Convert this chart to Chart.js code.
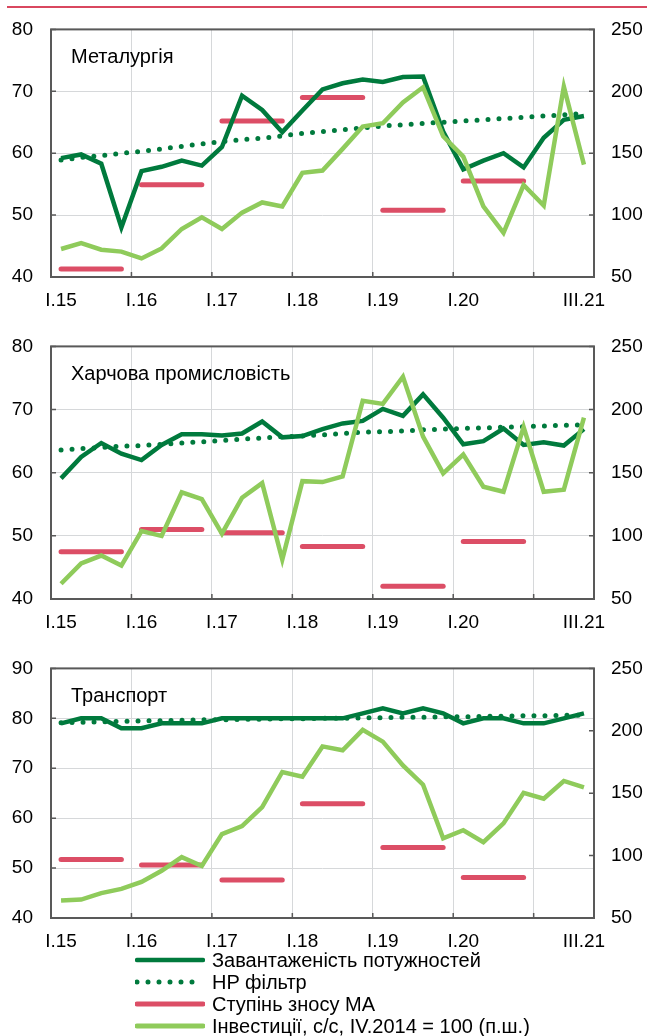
<!DOCTYPE html>
<html>
<head>
<meta charset="utf-8">
<script src="https://cdn.jsdelivr.net/npm/chart.js@4"></script>
<style>
  body { margin: 0; background: #fff; width: 647px; height: 1036px; position: relative; overflow: hidden;
         font-family: "Liberation Sans", Arial, sans-serif; }
  canvas { position: absolute; left: 0; }
  #topline { position: absolute; left: 7px; right: 0; top: 6px; height: 2px; background: #d9475f; }
  #legend { position: absolute; left: 135px; top: 949px; }
  .row { height: 22px; line-height: 22px; display: flex; align-items: center; font-size: 20px; color: #000; }
  .row svg { margin-right: 7px; flex: none; }
</style>
</head>
<body>
<div id="topline"></div>
<canvas id="c1" width="647" height="317" style="top:0px"></canvas>
<canvas id="c2" width="647" height="322" style="top:317px"></canvas>
<canvas id="c3" width="647" height="319" style="top:639px"></canvas>

<div id="legend">
  <div class="row"><svg width="70" height="10"><line x1="2" y1="5" x2="68" y2="5" stroke="#007a3d" stroke-width="4.5" stroke-linecap="round"/></svg>Завантаженість потужностей</div>
  <div class="row"><svg width="70" height="10"><line x1="2" y1="5" x2="68" y2="5" stroke="#007a3d" stroke-width="5" stroke-linecap="round" stroke-dasharray="0 11"/></svg>HP фільтр</div>
  <div class="row"><svg width="70" height="10"><line x1="2" y1="5" x2="68" y2="5" stroke="#dc4e66" stroke-width="5" stroke-linecap="round"/></svg>Ступінь зносу МА</div>
  <div class="row"><svg width="70" height="10"><line x1="2" y1="5" x2="68" y2="5" stroke="#8fcb5b" stroke-width="5" stroke-linecap="round"/></svg>Інвестиції, с/с, IV.2014 = 100 (п.ш.)</div>
</div>

<script>
// quarters I.15 .. III.21
const quarters = ['I.15','II.15','III.15','IV.15','I.16','II.16','III.16','IV.16',
  'I.17','II.17','III.17','IV.17','I.18','II.18','III.18','IV.18',
  'I.19','II.19','III.19','IV.19','I.20','II.20','III.20','IV.20',
  'I.21','II.21','III.21'];
const shownTicks = ['I.15','I.16','I.17','I.18','I.19','I.20','III.21'];

// Металургія
const metCapacity = [59.2, 59.8, 58.3, 48.0, 57.1, 57.8, 58.8, 58.0, 61.0, 69.3, 67.0, 63.4, 66.9, 70.3,
  71.3, 71.9, 71.5, 72.3, 72.4, 63.5, 57.4, 58.8, 60.0, 57.7, 62.5, 65.4, 66.0];
const metHP = [58.9, 59.3, 59.6, 60.0, 60.3, 60.7, 61.1, 61.5, 61.9, 62.2, 62.4, 62.8, 63.2, 63.5,
  63.8, 64.1, 64.4, 64.6, 64.8, 65.0, 65.2, 65.4, 65.6, 65.8, 66.0, 66.2, 66.4];
const metWear = [41.3, 54.9, 65.2, 69.0, 50.8, 55.5]; // 2015..2020
const metInvest = [72.6, 77.3, 72.0, 70.5, 65.0, 73.1, 88.8, 98.2, 88.8, 102.0, 110.2, 107.0, 134.2, 136.0,
  153.5, 171.5, 174.2, 191.0, 203.3, 163.7, 147.3, 107.0, 85.7, 124.3, 107.7, 203.8, 140.8];

// Харчова промисловість
const foodCapacity = [59.1, 62.5, 64.7, 63.0, 62.0, 64.4, 66.1, 66.1, 65.9, 66.2, 68.1, 65.6, 65.8, 66.9,
  67.8, 68.2, 70.1, 69.0, 72.4, 68.7, 64.5, 65.0, 67.0, 64.4, 64.8, 64.3, 66.9];
const foodHP = [63.6, 63.8, 64.0, 64.2, 64.3, 64.5, 64.7, 64.9, 65.1, 65.3, 65.5, 65.7, 65.8, 66.0,
  66.2, 66.4, 66.5, 66.6, 66.8, 66.9, 67.0, 67.1, 67.2, 67.3, 67.4, 67.5, 67.6];
const foodWear = [47.5, 51.0, 50.5, 48.3, 42.0, 49.1];
const foodInvest = [62.1, 78.2, 84.4, 76.5, 103.7, 100.0, 134.4, 129.0, 101.7, 130.2, 141.8, 81.2, 143.3, 142.6,
  147.0, 206.9, 204.5, 226.0, 178.5, 149.5, 164.4, 138.9, 134.9, 186.1, 134.9, 136.6, 193.6];

// Транспорт
const trCapacity = [79, 80, 80, 78, 78, 79, 79, 79, 80, 80, 80, 80, 80, 80,
  80, 81, 82, 81, 82, 81, 79, 80, 80, 79, 79, 80, 81];
const trHP = [79.1, 79.2, 79.3, 79.4, 79.5, 79.5, 79.6, 79.7, 79.7, 79.8, 79.8, 79.9, 79.9, 80.0,
  80.0, 80.1, 80.1, 80.2, 80.2, 80.3, 80.3, 80.4, 80.4, 80.5, 80.5, 80.6, 80.6];
const trWear = [51.7, 50.6, 47.6, 62.9, 54.1, 48.1];
const trInvest = [64.1, 64.8, 69.9, 73.3, 78.9, 87.8, 98.8, 91.7, 117.2, 123.6, 138.9, 167.0, 163.2, 187.5,
  184.4, 200.8, 191.3, 172.2, 156.8, 113.9, 120.3, 110.8, 125.8, 150.3, 145.6, 159.8, 154.6];

const darkGreen = '#007a3d';
const lightGreen = '#8fcb5b';
const red = '#dc4e66';
const gridColor = '#d6d8da';

Chart.defaults.font.family = '"Liberation Sans", Arial, sans-serif';
Chart.defaults.font.size = 19;
Chart.defaults.color = '#000';

// yearly wear value spread over its four quarters, nothing for 2021
const byQuarter = yearly => quarters.map((q, i) => i < yearly.length * 4 ? yearly[Math.floor(i / 4)] : null);

// box round the plot, small inner ticks, panel name
const frame = {
  id: 'frame',
  beforeDatasetsDraw(chart, args, opts) {
    const {ctx, chartArea: a, scales} = chart;
    ctx.save();
    ctx.strokeStyle = '#595959';
    ctx.lineWidth = 1.5;
    ctx.beginPath();
    scales.x.ticks.forEach((t, i) => {
      if (i > 0 && i % 4 === 0) {
        const x = (scales.x.getPixelForTick(i) + scales.x.getPixelForTick(i - 1)) / 2;
        ctx.moveTo(x, a.bottom); ctx.lineTo(x, a.bottom - 5);
      }
    });
    scales.y.ticks.forEach(t => {
      const y = scales.y.getPixelForValue(t.value);
      ctx.moveTo(a.left, y); ctx.lineTo(a.left + 5, y);
    });
    scales.y1.ticks.forEach(t => {
      const y = scales.y1.getPixelForValue(t.value);
      ctx.moveTo(a.right, y); ctx.lineTo(a.right - 5, y);
    });
    ctx.stroke();
    ctx.lineWidth = 2;
    ctx.strokeRect(a.left, a.top, a.width, a.height);
    ctx.fillStyle = '#000';
    ctx.font = '20px "Liberation Sans", Arial, sans-serif';
    ctx.textBaseline = 'alphabetic';
    ctx.fillText(opts.title, a.left + 20, a.top + 34);
    ctx.restore();
  }
};

function makePanel(id, title, cap, hp, wear, inv, yMax, padTop) {
  return new Chart(document.getElementById(id), {
    type: 'line',
    data: {
      labels: quarters,
      datasets: [
        {label: 'Інвестиції', data: inv, yAxisID: 'y1', borderColor: lightGreen, borderWidth: 4.5, order: 0},
        {label: 'Завантаженість потужностей', data: cap, yAxisID: 'y', borderColor: darkGreen, borderWidth: 4.5, order: 1},
        {label: 'HP фільтр', data: hp, yAxisID: 'y', borderColor: darkGreen, borderWidth: 5,
          borderDash: [0, 11], borderCapStyle: 'round', order: 2},
        {label: 'Ступінь зносу МА', data: byQuarter(wear), yAxisID: 'y', borderColor: red, borderWidth: 5,
          borderCapStyle: 'round', order: 3,
          segment: {borderColor: c => c.p0DataIndex % 4 === 3 ? 'transparent' : red}}
      ]
    },
    options: {
      responsive: false,
      animation: false,
      layout: {padding: {top: padTop, left: 0, right: 0, bottom: 0}},
      elements: {point: {radius: 0}, line: {tension: 0}},
      plugins: {legend: {display: false}, tooltip: {enabled: false}, frame: {title: title}},
      scales: {
        x: {
          type: 'category',
          offset: true,
          border: {display: false},
          grid: {offset: true, drawTicks: false,
            color: c => (c.index > 0 && c.index % 4 === 0) ? gridColor : 'transparent'},
          ticks: {autoSkip: false, maxRotation: 0, padding: 12,
            callback: (v, i) => shownTicks.includes(quarters[i]) ? quarters[i] : ''},
          afterFit: s => { s.height = 40; }
        },
        y: {
          position: 'left', min: 40, max: yMax,
          border: {display: false},
          grid: {drawTicks: false, color: gridColor},
          ticks: {stepSize: 10, padding: 18},
          afterFit: s => { s.width = 51; }
        },
        y1: {
          position: 'right', min: 50, max: 250,
          border: {display: false},
          grid: {display: false, drawTicks: false},
          ticks: {stepSize: 50, padding: 17},
          afterFit: s => { s.width = 53; }
        }
      }
    },
    plugins: [frame]
  });
}

makePanel('c1', 'Металургія', metCapacity, metHP, metWear, metInvest, 80, 21.5);
makePanel('c2', 'Харчова промисловість', foodCapacity, foodHP, foodWear, foodInvest, 80, 13);
makePanel('c3', 'Транспорт', trCapacity, trHP, trWear, trInvest, 90, 18);
</script>
</body>
</html>
